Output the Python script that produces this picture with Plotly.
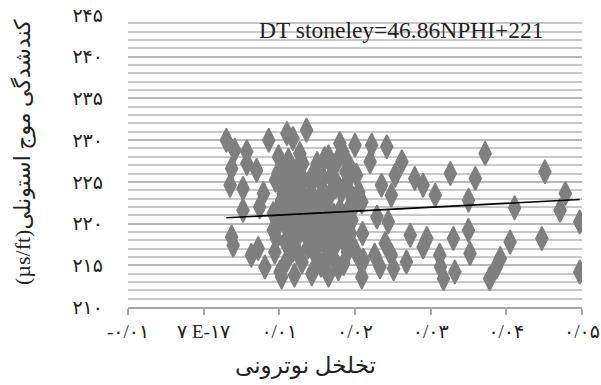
import plotly.graph_objects as go

# ---- data ----
nphi = [
    0.0451, 0.0478, 0.0471, 0.0497, 0.0447, 0.0497, 0.0411, 0.0405,
    0.0372, 0.0326, 0.0359, 0.0306, 0.0350, 0.0350, 0.0330, 0.0352, 0.0312, 0.0392,
    0.0387, 0.0332, 0.0317, 0.0378,
    0.0222, 0.0242, 0.0220, 0.0262, 0.0253, 0.0279, 0.0290, 0.0235, 0.0248, 0.0209,
    0.0229, 0.0244, 0.0273, 0.0295, 0.0240, 0.0226, 0.0248, 0.0268, 0.0233, 0.0251,
    0.0211, 0.0209, 0.0290, 0.0313,
    0.0136, 0.0118, 0.0180, 0.0200, 0.0165, 0.0127, 0.0112, 0.0145, 0.0202, 0.0174,
    0.0125, 0.0156, 0.0196, 0.0116, 0.0196, 0.0134, 0.0156, 0.0116, 0.0147, 0.0174,
    0.0200, 0.0125, 0.0163, 0.0209, 0.0143, 0.0178, 0.0110,
    0.0030, 0.0041, 0.0037, 0.0035, 0.0057, 0.0057, 0.0070, 0.0086, 0.0110, 0.0099,
    0.0052, 0.0079, 0.0052, 0.0074, 0.0037, 0.0039, 0.0063, 0.0072, 0.0081, 0.0101,
    0.0103, 0.0092, 0.0092, 0.0103, 0.0110, 0.0107, 0.0094,
    0.0095, 0.0105, 0.0115, 0.0122, 0.0128, 0.0135, 0.0138, 0.0142, 0.0148, 0.0152,
    0.0158, 0.0162, 0.0166, 0.0170, 0.0172, 0.0178, 0.0182, 0.0186, 0.0188, 0.0192,
    0.0098, 0.0108, 0.0112, 0.0131, 0.0145, 0.0160, 0.0184, 0.0190, 0.0205, 0.0210,
    0.0120, 0.0165, 0.0100, 0.0155, 0.0185,
    0.0098, 0.0104, 0.0118, 0.0124, 0.0132, 0.0150, 0.0154, 0.0168, 0.0176, 0.0192,
    0.0102, 0.0113, 0.0126, 0.0140, 0.0146, 0.0164, 0.0168, 0.0180, 0.0190, 0.0198,
    0.0096, 0.0112, 0.0124, 0.0133, 0.0140, 0.0152, 0.0160, 0.0170, 0.0182, 0.0194,
    0.0118, 0.0130, 0.0150, 0.0172, 0.0190,
    0.0108, 0.0128, 0.0144, 0.0158, 0.0176, 0.0120, 0.0137, 0.0162, 0.0186, 0.0106,
]
dt_stoneley = [
    226.2, 223.6, 221.6, 220.2, 218.2, 214.2, 221.9, 217.8,
    228.4, 226.0, 225.4, 223.4, 222.8, 219.2, 218.2, 216.4, 216.2, 215.8,
    214.8, 214.2, 213.4, 213.4,
    229.4, 229.2, 227.4, 227.4, 225.8, 225.4, 224.6, 224.6, 223.4, 222.6,
    220.8, 220.2, 218.6, 218.2, 217.6, 216.2, 216.2, 215.4, 214.8, 214.6,
    215.6, 213.6, 217.2, 214.8,
    231.2, 230.2, 229.6, 229.4, 228.0, 228.4, 226.4, 226.0, 225.8, 224.4,
    224.0, 223.2, 223.2, 222.4, 220.4, 220.4, 220.0, 218.4, 218.0, 217.4,
    216.8, 216.4, 216.0, 215.2, 214.0, 214.6, 215.6,
    230.0, 228.8, 226.6, 224.6, 228.6, 227.2, 226.4, 230.0, 230.8, 228.0,
    224.2, 223.6, 221.6, 222.0, 218.4, 217.4, 216.2, 217.0, 214.8, 214.2,
    213.6, 219.2, 221.2, 222.8, 224.8, 226.4, 216.6,
    225.2, 223.6, 221.4, 219.8, 225.6, 222.6, 217.2, 224.8, 221.6, 219.2,
    225.4, 222.2, 218.8, 226.8, 221.0, 219.6, 223.8, 217.8, 226.2, 221.8,
    219.8, 217.8, 227.6, 227.2, 216.8, 227.8, 228.6, 225.0, 223.8, 218.8,
    213.8, 213.8, 221.0, 215.0, 215.2,
    226.0, 224.2, 225.0, 226.6, 225.2, 227.2, 225.0, 225.6, 227.4, 227.0,
    222.4, 223.2, 222.0, 221.0, 223.0, 220.6, 223.6, 221.6, 220.2, 222.0,
    218.2, 219.6, 218.4, 219.0, 219.6, 217.6, 218.8, 219.0, 218.4, 218.8,
    216.8, 215.4, 215.8, 215.8, 216.6,
    221.8, 223.8, 220.2, 224.0, 224.8, 220.8, 222.8, 217.0, 220.6, 220.2,
]

# linear trend
trend_slope = 46.86
trend_intercept = 220.55
equation_text = "DT stoneley=46.86NPHI+221"

x_tickvals = [-0.01, 0.0, 0.01, 0.02, 0.03, 0.04, 0.05]
x_ticktext = ["-۰/۰۱", "۷ E-۱۷", "۰/۰۱", "۰/۰۲", "۰/۰۳", "۰/۰۴", "۰/۰۵"]
y_tickvals = [210, 215, 220, 225, 230, 235, 240, 245]
y_ticktext = ["۲۱۰", "۲۱۵", "۲۲۰", "۲۲۵", "۲۳۰", "۲۳۵", "۲۴۰", "۲۴۵"]

x_title = "تخلخل نوترونی"
y_title = "کندشدگی موج استونلی(µs/ft)"

FONT = "Liberation Serif, DejaVu Sans, serif"

fig = go.Figure()
fig.add_trace(go.Scatter(
    x=nphi, y=dt_stoneley, mode="markers",
    marker=dict(symbol="diamond-tall", size=17, color="#7f7f7f",
                line=dict(color="#7f7f7f", width=1.6)),
    showlegend=False, hoverinfo="skip",
))

xmin, xmax = min(nphi), max(nphi)
fig.add_trace(go.Scatter(
    x=[xmin, xmax],
    y=[trend_intercept + trend_slope * xmin, trend_intercept + trend_slope * xmax],
    mode="lines", line=dict(color="black", width=1.6),
    showlegend=False, hoverinfo="skip",
))

fig.update_layout(
    width=601, height=385,
    margin=dict(l=128, r=19, t=15, b=78, autoexpand=False),
    paper_bgcolor="white", plot_bgcolor="white",
    font=dict(family=FONT, size=19, color="#222222"),
    xaxis=dict(
        range=[-0.01, 0.05], tickmode="array", tickvals=x_tickvals, ticktext=x_ticktext,
        automargin=False,
        showgrid=False, zeroline=False, showline=True, linecolor="#a6a6a6", linewidth=1.5,
        ticks="outside", ticklen=6, tickcolor="#a6a6a6", tickwidth=1.5,
        tickfont=dict(family=FONT, size=19, color="#222222"),
    ),
    yaxis=dict(
        range=[210, 245], tickmode="array", tickvals=y_tickvals, ticktext=y_ticktext,
        automargin=False,
        showgrid=True, gridcolor="#b8b8b8", gridwidth=1.5,
        zeroline=False, showline=False, ticks="",
        ticklabelstandoff=24,
        tickfont=dict(family=FONT, size=19, color="#222222"),
        minor=dict(tickmode="linear", tick0=210, dtick=1, showgrid=True,
                   gridcolor="#c8c8c8", gridwidth=1.5),
    ),
    annotations=[
        dict(text=equation_text, xref="paper", yref="paper", x=0.603, y=0.949,
             xanchor="center", yanchor="middle", showarrow=False,
             font=dict(family="Liberation Serif, serif", size=23.5, color="#222222")),
        dict(text=x_title, xref="paper", yref="paper", x=0.39, y=0, yshift=-59,
             xanchor="center", yanchor="middle", showarrow=False,
             font=dict(family=FONT, size=23, color="#222222")),
        dict(text="\u202b" + y_title + "\u202c", xref="paper", yref="paper", x=0, y=0.5,
             xshift=-105, yshift=9, textangle=-90,
             xanchor="center", yanchor="middle", showarrow=False,
             font=dict(family=FONT, size=22, color="#222222")),
    ],
)

fig.write_html("out.html")
